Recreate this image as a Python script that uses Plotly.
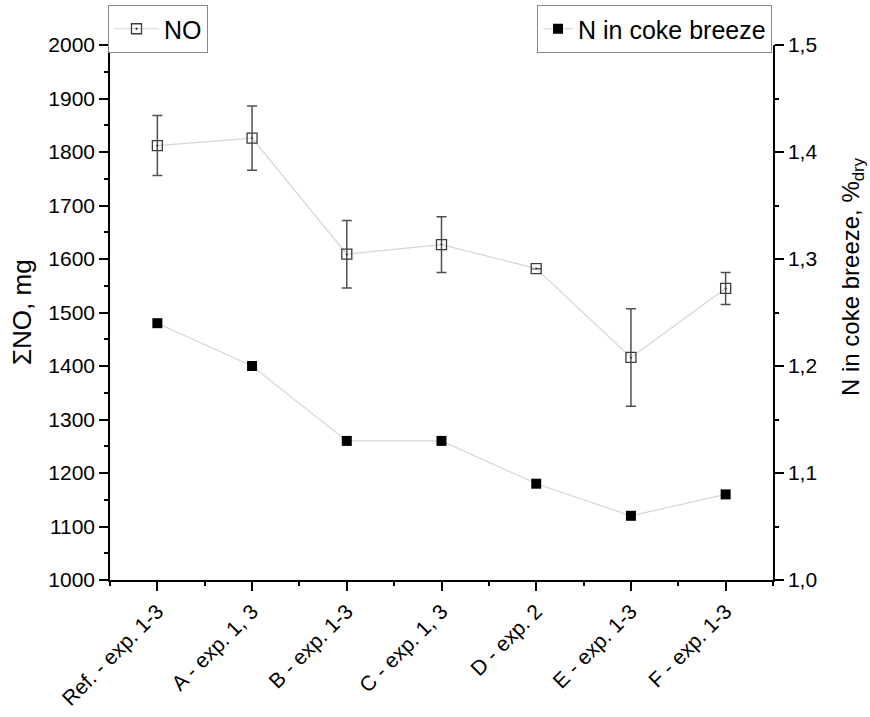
import plotly.graph_objects as go

categories = ["Ref. - exp. 1-3", "A - exp. 1, 3", "B - exp. 1-3", "C - exp. 1, 3",
              "D - exp. 2", "E - exp. 1-3", "F - exp. 1-3"]
no_values = [1812, 1826, 1609, 1627, 1582, 1416, 1545]
no_errors = [56, 60, 63, 52, 0, 91, 30]
n_coke = [1.24, 1.20, 1.13, 1.13, 1.09, 1.06, 1.08]

xpos = list(range(len(categories)))
FONT = "Liberation Sans, Arial, sans-serif"

W, H = 870, 717
L, R, T, B = 110, 97, 45, 137
PW, PH = W - L - R, H - T - B


def px_to_paper(px, py):
    return (px - L) / PW, (H - B - py) / PH


fig = go.Figure()
fig.add_trace(go.Scatter(
    x=xpos, y=no_values, name="NO", mode="lines+markers",
    line=dict(color="#d6d6d6", width=1.2),
    marker=dict(symbol="square-open-dot", size=10, color="#3c3c3c", line=dict(width=1.3)),
    error_y=dict(type="data", array=no_errors, visible=True, color="#505050",
                 thickness=1.5, width=5),
    legend="legend",
))
fig.add_trace(go.Scatter(
    x=xpos, y=n_coke, name="N in coke breeze", mode="lines+markers",
    line=dict(color="#d6d6d6", width=1.2),
    marker=dict(symbol="square", size=10, color="black"),
    yaxis="y2", legend="legend2",
))

axis_common = dict(showline=True, linecolor="black", linewidth=1.5, ticks="outside",
                   ticklen=9, tickwidth=1.5, tickcolor="black", showgrid=False,
                   zeroline=False, tickfont=dict(size=21, color="black", family=FONT))
minor_common = dict(ticks="outside", ticklen=4, tickwidth=1.5, tickcolor="black")

lx, ly = px_to_paper(22, 312)
rx, ry = px_to_paper(852, 277)

fig.update_layout(
    width=W, height=H,
    margin=dict(l=L, r=R, t=T, b=B, autoexpand=False),
    plot_bgcolor="white", paper_bgcolor="white",
    font=dict(family=FONT, color="black"),
    xaxis=dict(range=[-0.5, 6.5], tickvals=xpos, ticktext=categories, tickangle=-45,
               minor=dict(dtick=0.5, tick0=0.5, **minor_common),
               **axis_common),
    yaxis=dict(range=[1000, 2000], dtick=100,
               minor=dict(dtick=50, **minor_common),
               **axis_common),
    yaxis2=dict(range=[1.0, 1.5], dtick=0.1, overlaying="y", side="right",
                tickformat=".1f",
                minor=dict(dtick=0.05, **minor_common),
                **axis_common),
    separators=",.",
    annotations=[
        dict(text="ΣNO, mg", textangle=-90, xref="paper", yref="paper", x=lx, y=ly,
             xanchor="center", yanchor="middle", showarrow=False,
             font=dict(size=26, family=FONT, color="black")),
        dict(text="N in coke breeze, %<sub>dry</sub>", textangle=-90, xref="paper",
             yref="paper", x=rx, y=ry, xanchor="center", yanchor="middle",
             showarrow=False, font=dict(size=24, family=FONT, color="black")),
    ],
    legend=dict(xref="container", yref="container", x=108/W, y=1 - 5/H,
                xanchor="left", yanchor="top",
                bordercolor="#888888", borderwidth=1, bgcolor="white",
                font=dict(size=25, family=FONT), itemwidth=45),
    legend2=dict(xref="container", yref="container", x=772/W, y=1 - 5/H,
                 xanchor="right", yanchor="top",
                 bordercolor="#888888", borderwidth=1, bgcolor="white",
                 font=dict(size=25, family=FONT), itemwidth=30),
    showlegend=True,
)

fig.write_html("out.html")
